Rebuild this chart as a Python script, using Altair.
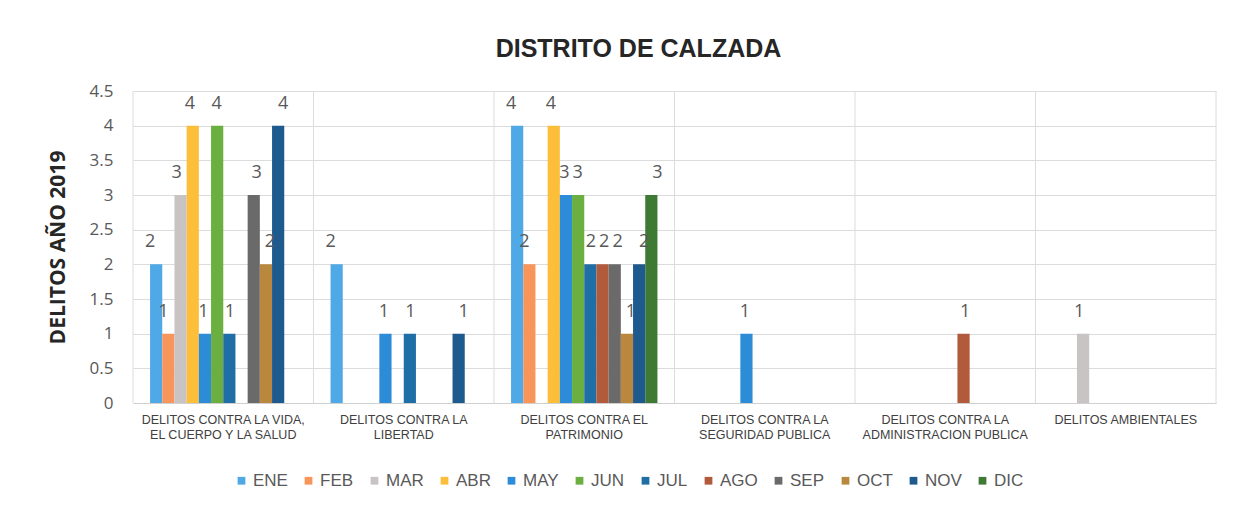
import altair as alt
import pandas as pd

months = ["ENE", "FEB", "MAR", "ABR", "MAY", "JUN", "JUL", "AGO", "SEP", "OCT", "NOV", "DIC"]
colors = ["#4FA9E6", "#F7955A", "#C8C4C4", "#FDBE3A", "#2C8CD8", "#6AAF3F",
          "#1F6EA6", "#B25A3C", "#6A6A6A", "#B9883E", "#1F5A8E", "#3E7A34"]

categories = [
    "DELITOS CONTRA LA VIDA,|EL CUERPO Y LA SALUD",
    "DELITOS CONTRA LA|LIBERTAD",
    "DELITOS CONTRA EL|PATRIMONIO",
    "DELITOS CONTRA LA|SEGURIDAD PUBLICA",
    "DELITOS CONTRA LA|ADMINISTRACION PUBLICA",
    "DELITOS AMBIENTALES",
]

y_ticks = [0, 0.5, 1, 1.5, 2, 2.5, 3, 3.5, 4, 4.5]

vida = [2, 1, 3, 4, 1, 4, 1, 0, 3, 2, 4, 0]
libertad = [2, 0, 0, 0, 1, 0, 1, 0, 0, 0, 1, 0]
patrimonio = [4, 2, 0, 4, 3, 3, 2, 2, 2, 1, 2, 3]
seguridad = [0, 0, 0, 0, 1, 0, 0, 0, 0, 0, 0, 0]
administracion = [0, 0, 0, 0, 0, 0, 0, 1, 0, 0, 0, 0]
ambientales = [0, 0, 1, 0, 0, 0, 0, 0, 0, 0, 0, 0]

series = [vida, libertad, patrimonio, seguridad, administracion, ambientales]

rows = []
for cat, vals in zip(categories, series):
    for m, v in zip(months, vals):
        rows.append({"categoria": cat, "mes": m, "valor": v})
df = pd.DataFrame(rows)
df = df[df["valor"] > 0]

boundaries = pd.DataFrame({"b": list(range(len(categories) + 1))})

PI = 0.189
PO = PI / 2


def x_scale():
    return alt.Scale(domain=categories, paddingInner=PI, paddingOuter=PO)


def xoff_scale():
    return alt.Scale(domain=months, paddingInner=0, paddingOuter=0)


def y_scale():
    return alt.Scale(domain=[0, 4.5], nice=False)


def y_axis():
    return alt.Axis(
        title="DELITOS AÑO 2019",
        titleFont="Open Sans",
        titleFontSize=21,
        titleFontWeight="bold",
        titleColor="#262626",
        titleX=-75,
        titleY=156,
        titleAlign="center",
        titleBaseline="middle",
        titleAngle=-90,
        values=y_ticks,
        labelExpr="datum.value",
        labelOverlap=False,
        labelFont="Open Sans",
        labelFontSize=17,
        labelColor="#595959",
        labelPadding=20,
        ticks=False,
        domain=False,
        grid=True,
        gridColor="#DCDCDC",
    )


vgrid = alt.Chart(boundaries).mark_rule(color="#DCDCDC", strokeWidth=1).encode(
    x=alt.X("b:Q", scale=alt.Scale(domain=[0, len(categories)], nice=False, zero=False), axis=None),
)

bars = alt.Chart(df).mark_bar().encode(
    x=alt.X(
        "categoria:N",
        sort=categories,
        scale=x_scale(),
        axis=alt.Axis(
            title=None,
            labelExpr="split(datum.label, '|')",
            labelAngle=0,
            labelFont="Liberation Sans",
            labelFontSize=12.5,
            labelColor="#404040",
            labelPadding=10,
            labelLineHeight=15,
            labelBaseline="top",
            ticks=False,
            grid=False,
            domainColor="#D0D0D0",
        ),
    ),
    xOffset=alt.XOffset("mes:N", sort=months, scale=xoff_scale()),
    y=alt.Y("valor:Q", scale=y_scale(), axis=y_axis()),
    color=alt.Color(
        "mes:N",
        sort=months,
        scale=alt.Scale(domain=months, range=colors),
        legend=alt.Legend(
            title=None,
            orient="none",
            legendX=100,
            legendY=381,
            direction="horizontal",
            columns=12,
            symbolType="square",
            symbolSize=60,
            symbolStrokeWidth=0,
            labelFont="Liberation Sans",
            labelFontSize=17,
            labelColor="#595959",
            labelOffset=3,
            columnPadding=12,
        ),
    ),
)

labels = alt.Chart(df).mark_text(
    font="Open Sans", fontSize=18, color="#595959", baseline="bottom", dy=-13
).encode(
    x=alt.X("categoria:N", sort=categories, scale=x_scale(), axis=None),
    xOffset=alt.XOffset("mes:N", sort=months, scale=xoff_scale()),
    y=alt.Y("valor:Q", scale=y_scale(), axis=y_axis()),
    text="valor:Q",
)

chart = (
    alt.layer(vgrid, bars, labels)
    .resolve_scale(x="independent", xOffset="independent")
    .properties(
        width=1083,
        height=312,
        title=alt.TitleParams(
            "DISTRITO DE CALZADA",
            font="Liberation Sans",
            fontSize=25,
            fontWeight="bold",
            color="#262626",
            anchor="middle",
            frame="group",
            dx=-36,
            offset=20,
        ),
        autosize=alt.AutoSizeParams(type="none"),
        padding={"left": 125, "top": 83, "right": 12, "bottom": 90},
    )
    .configure_view(stroke="transparent")
)

chart.save("out.html", embed_options={"renderer": "svg", "actions": False})
